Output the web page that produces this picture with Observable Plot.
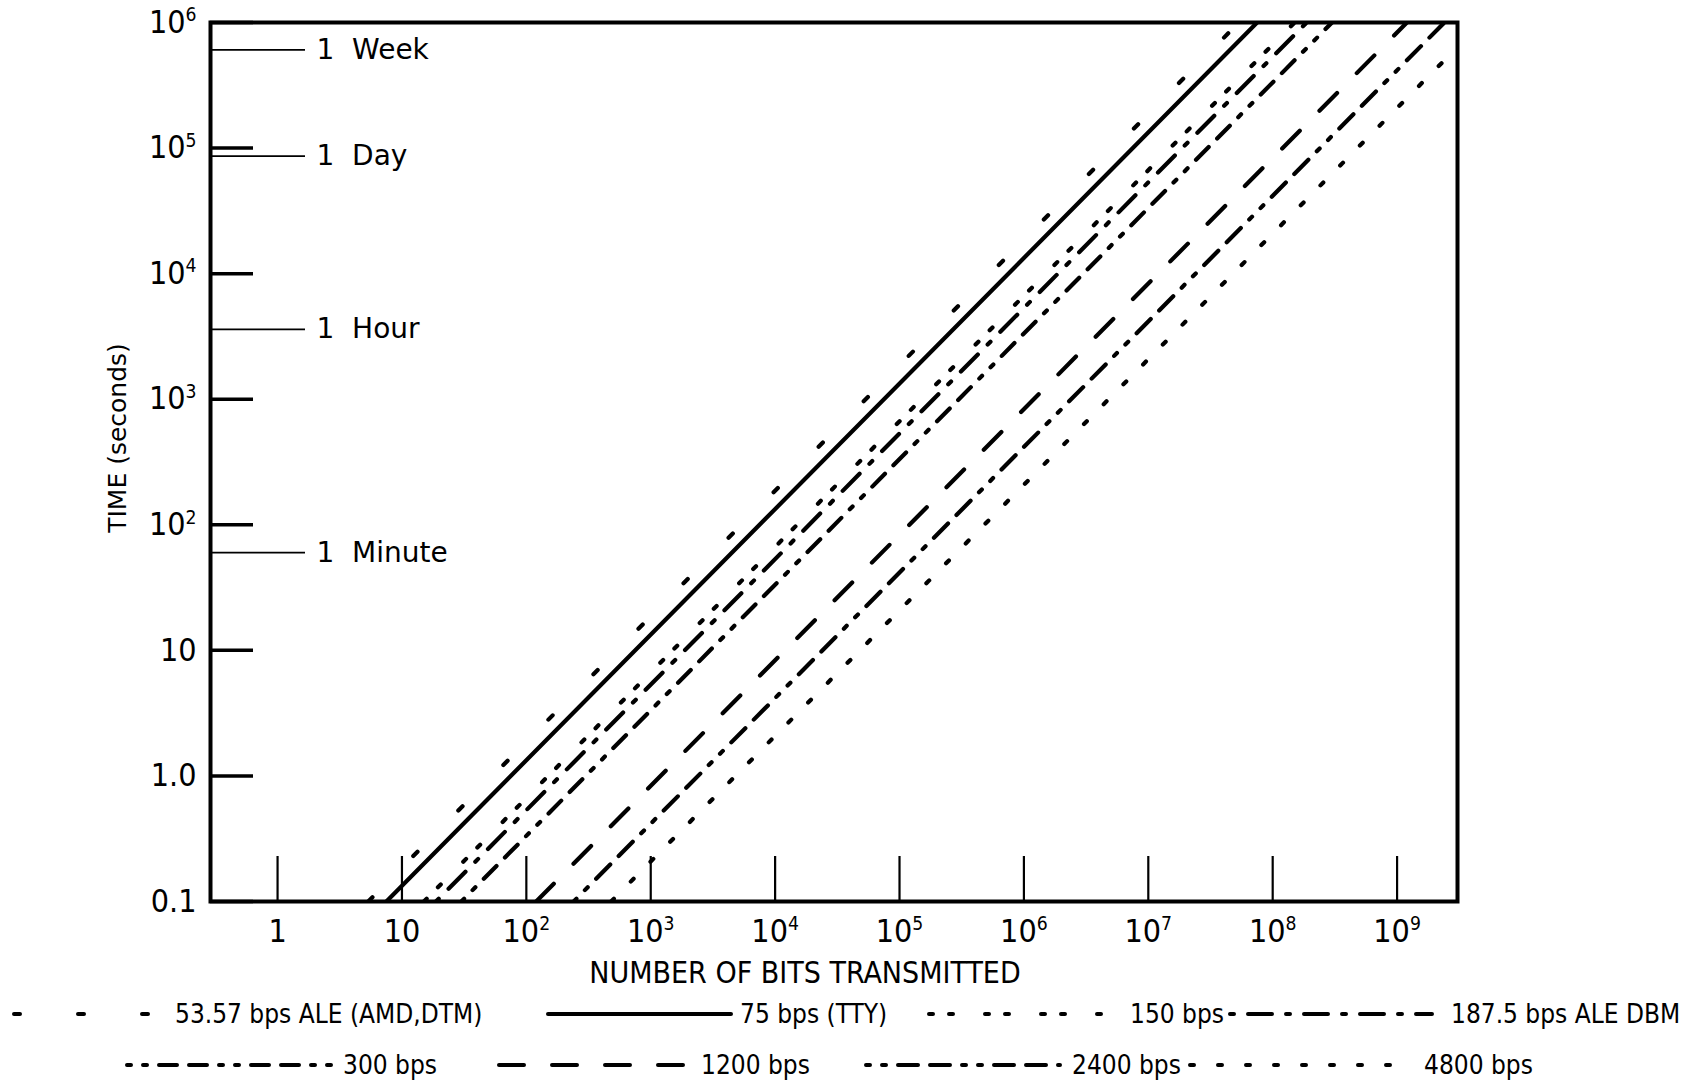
<!DOCTYPE html>
<html><head><meta charset="utf-8">
<script src="https://cdn.jsdelivr.net/npm/d3@7"></script>
<script src="https://cdn.jsdelivr.net/npm/@observablehq/plot@0.6"></script>
<style>
body{margin:0;background:#fff;width:1692px;height:1086px;overflow:hidden;position:relative}
#legend{position:relative;height:91px;font-family:"Liberation Sans Narrow","DejaVu Sans Condensed",sans-serif;font-size:26px;color:#000}
#legend .s{position:absolute;height:20px}
#legend .t{position:absolute;line-height:30px;white-space:nowrap}
</style></head><body><div id="chart"></div><div id="legend"></div>
<script>
// ---- data ----
const rates = [53.57, 75, 150, 187.5, 300, 1200, 2400, 4800];
const labels = ["53.57 bps ALE (AMD,DTM)", "75 bps (TTY)", "150 bps", "187.5 bps ALE DBM", "300 bps", "1200 bps", "2400 bps", "4800 bps"];
const dashes = ["6,58", null, "4,16,4,32", "4,14,24,14", "4,12,4,12,18,12,18,12", "25,28", "4,12,4,12,20,12,20,12", "4,24"];
const timeExtent = [0.1, 1e6];
const xTicks = [1, 10, 1e2, 1e3, 1e4, 1e5, 1e6, 1e7, 1e8, 1e9];
const xTickLabels = ["1", "10", "10^2", "10^3", "10^4", "10^5", "10^6", "10^7", "10^8", "10^9"];
const yTicks = [0.1, 1, 10, 1e2, 1e3, 1e4, 1e5, 1e6];
const yTickLabels = ["0.1", "1.0", "10", "10^2", "10^3", "10^4", "10^5", "10^6"];
const namedTimes = [604800, 86400, 3600, 60];
const namedLabels = ["1\u00a0\u00a0Week", "1\u00a0\u00a0Day", "1\u00a0\u00a0Hour", "1\u00a0\u00a0Minute"];

// ---- layout ----
const W = 1692, H = 995, mL = 210, mR = 235, mT = 22, mB = 94;
const fw = W - mL - mR, fh = H - mT - mB;
const narrow = '"Liberation Sans Narrow","DejaVu Sans Condensed",sans-serif';
const wide = '"DejaVu Sans",sans-serif';

const lineMarks = rates.map((r, i) => Plot.line(
  timeExtent.map(t => ({bits: t * r, time: t})),
  {x: "bits", y: "time", stroke: "black", strokeWidth: 4.2, strokeLinecap: "round",
   strokeDasharray: dashes[i] ?? undefined, clip: true}
));

const plot = Plot.plot({
  width: W, height: H, marginLeft: mL, marginRight: mR, marginTop: mT, marginBottom: mB,
  style: {background: "white", color: "black"},
  x: {type: "log", domain: [0.289, 3.06e9], axis: null},
  y: {type: "log", domain: [0.1, 1e6], axis: null},
  marks: [
    ...lineMarks,
    Plot.tickX(xTicks, {x: d => d, insetTop: fh - 45, strokeWidth: 2.2}),
    Plot.text(xTicks, {x: d => d, frameAnchor: "bottom", lineAnchor: "middle", dy: 30,
      text: (d, i) => xTickLabels[i], fontSize: 32, fontFamily: narrow}),
    Plot.tickY(yTicks, {y: d => d, insetRight: fw - 43, strokeWidth: 3.5}),
    Plot.text(yTicks, {y: d => d, frameAnchor: "left", dx: -14, textAnchor: "end",
      text: (d, i) => yTickLabels[i], fontSize: 32, fontFamily: narrow}),
    Plot.tickY(namedTimes, {y: d => d, insetRight: fw - 95, strokeWidth: 1.8}),
    Plot.text(namedTimes, {y: d => d, frameAnchor: "left", dx: 106, textAnchor: "start",
      text: (d, i) => namedLabels[i], fontSize: 28, fontFamily: wide}),
    Plot.frame({strokeWidth: 4}),
    Plot.text(["NUMBER OF BITS TRANSMITTED"], {frameAnchor: "bottom", lineAnchor: "middle",
      dy: 72, dx: -29, fontSize: 30, fontFamily: narrow}),
    Plot.text(["TIME (seconds)"], {frameAnchor: "left", textAnchor: "middle", lineAnchor: "middle",
      dx: -93, dy: -24, rotate: -90, fontSize: 25, fontFamily: wide})
  ]
});
document.getElementById("chart").appendChild(plot);

// superscripts
d3.select(plot).selectAll("text").each(function () {
  const s = this.textContent;
  if (!s.includes("^")) return;
  const [base, exp] = s.split("^");
  const el = d3.select(this);
  el.text(null);
  el.append("tspan").text(base);
  el.append("tspan").attr("dy", "-0.6em").attr("font-size", "0.6em").text(exp);
});

// ---- legend ----
const legendRow = [0, 0, 0, 0, 1, 1, 1, 1];
const sampleX = [11, 545, 926, 1227, 124, 496, 863, 1187];
const sampleW = [145, 189, 185, 208, 210, 195, 200, 229];
const textX = [175, 740, 1130, 1451, 343, 701, 1072, 1424];
const rowCenter = [19, 70];
const leg = d3.select("#legend");
rates.forEach((r, i) => {
  const cy = rowCenter[legendRow[i]];
  const svg = leg.append("svg").attr("class", "s").attr("width", sampleW[i]).attr("height", 20)
    .style("left", sampleX[i] + "px").style("top", (cy - 10) + "px");
  svg.append("line").attr("x1", 3).attr("x2", sampleW[i] - 3).attr("y1", 10).attr("y2", 10)
    .attr("stroke", "black").attr("stroke-width", 4).attr("stroke-linecap", "round")
    .attr("stroke-dasharray", dashes[i]);
  leg.append("span").attr("class", "t").text(labels[i])
    .style("left", textX[i] + "px").style("top", (cy - 15) + "px");
});
</script></body></html>
